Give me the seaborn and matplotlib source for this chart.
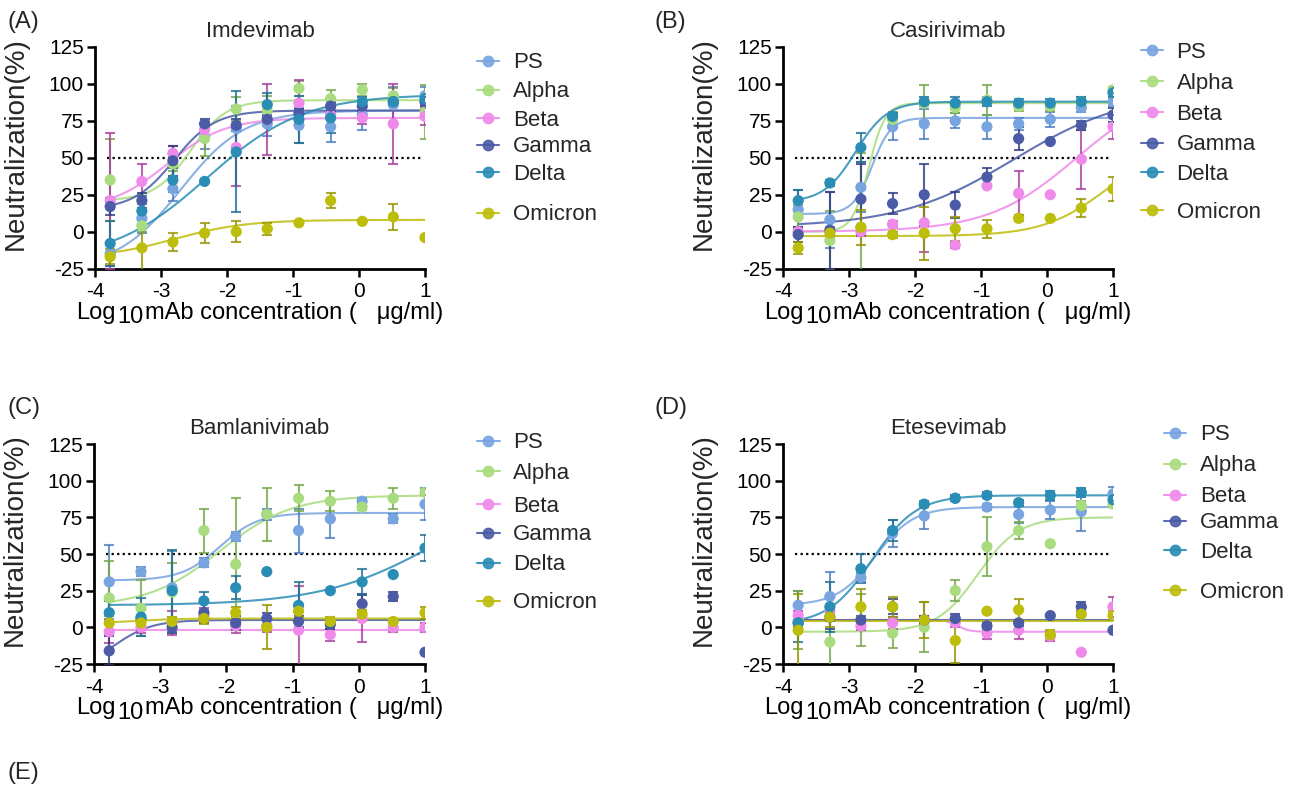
import numpy as np
import pandas as pd
import matplotlib
matplotlib.use("Agg")
import matplotlib.pyplot as plt
from matplotlib.lines import Line2D
from matplotlib.offsetbox import TextArea, HPacker, VPacker, DrawingArea, AnchoredOffsetbox
import seaborn as sns

# log10 mAb concentration (3-fold dilutions)
log_conc = [-3.77, -3.29, -2.82, -2.34, -1.86, -1.39, -0.91, -0.43, 0.05, 0.52, 1.00]
variants = ["PS", "Alpha", "Beta", "Gamma", "Delta", "Omicron"]

# 01. IMDEVIMAB
imd_ps = [-15, 9, 29, 64, 70, 73, 72, 71, 79, 86, 92]
imd_ps_err = [8, 10, 8, 8, 15, 8, 12, 10, 10, 12, 6]
imd_alpha = [35, 4, 46, 63, 83, 82, 97, 90, 96, 92, 81]
imd_alpha_err = [28, 4, 5, 12, 8, 10, 5, 6, 4, 5, 18]
imd_beta = [21, 34, 53, 69, 57, 76, 87, 79, 77, 73, 78]
imd_beta_err = [46, 12, 5, 5, 26, 24, 16, 8, 4, 27, 6]
imd_gamma = [17, 21, 48, 73, 72, 76, 80, 85, 85, 88, 88]
imd_gamma_err = [6, 5, 10, 3, 4, 3, 3, 3, 3, 2, 3]
imd_delta = [-8, 14, 35, 34, 54, 86, 76, 77, 88, 88, 90]
imd_delta_err = [15, 10, 8, 0, 41, 8, 16, 10, 3, 3, 3]
imd_omicron = [-17, -11, -7, -1, 0, 2, 6, 21, 7, 10, -4]
imd_omicron_err = [5, 16, 6, 7, 7, 4, 0, 5, 0, 9, 0]
# fit parameters (bottom, top, logEC50, hill) per variant
imd_fits = [(-25, 82, -2.7, 0.9), (21, 89, -2.55, 1.6), (15, 77, -2.9, 1.0),
            (15, 82, -2.8, 1.4), (-20, 93, -2.3, 0.6), (-18, 8, -2.8, 0.8)]

# 02. CASIRIVIMAB
cas_ps = [15, 8, 30, 71, 73, 75, 71, 73, 76, 84, 88]
cas_ps_err = [13, 19, 17, 9, 10, 5, 8, 4, 5, 3, 3]
cas_alpha = [10, -6, 3, 76, 87, 84, 89, 85, 85, 88, 96]
cas_alpha_err = [8, 20, 50, 5, 12, 4, 10, 3, 3, 3, 2]
cas_beta = [0, 0, 0, 5, 6, -9, 31, 26, 25, 49, 71]
cas_beta_err = [3, 3, 3, 2, 20, 2, 0, 15, 0, 20, 8]
cas_gamma = [-2, 1, 22, 19, 25, 18, 37, 63, 61, 72, 79]
cas_gamma_err = [5, 26, 24, 7, 21, 9, 6, 8, 0, 3, 5]
cas_delta = [21, 33, 57, 78, 88, 87, 88, 87, 87, 88, 94]
cas_delta_err = [7, 2, 10, 2, 3, 4, 3, 3, 3, 3, 3]
cas_omicron = [-11, -1, 3, -2, -1, 2, 2, 9, 9, 16, 29]
cas_omicron_err = [4, 3, 12, 2, 18, 8, 6, 2, 0, 6, 8]
cas_fits = [(12, 77, -2.65, 3.0), (0, 87, -2.7, 3.5), (0, 100, 0.45, 0.65),
            (3, 95, -0.5, 0.5), (20, 88, -2.9, 1.8), (-3, 60, 0.9, 0.9)]

# 03. BAMLANIVIMAB
bam_ps = [31, 38, 27, 44, 62, 77, 66, 74, 86, 74, 84]
bam_ps_err = [25, 3, 25, 3, 3, 4, 15, 13, 2, 3, 11]
bam_alpha = [20, 13, 24, 66, 43, 77, 88, 86, 82, 88, 92]
bam_alpha_err = [25, 19, 20, 15, 45, 18, 9, 7, 2, 7, 2]
bam_beta = [-3, 0, 3, 8, 1, 1, -2, -5, 6, 0, 0]
bam_beta_err = [8, 4, 8, 5, 5, 4, 30, 4, 16, 3, 3]
bam_gamma = [-16, 6, 0, 10, 3, 6, 4, 2, 16, 21, -17]
bam_gamma_err = [10, 8, 4, 7, 5, 4, 4, 3, 7, 3, 0]
bam_delta = [10, 7, 25, 18, 27, 38, 15, 25, 31, 36, 54]
bam_delta_err = [8, 13, 28, 6, 8, 0, 16, 0, 9, 0, 9]
bam_omicron = [3, 3, 4, 6, 10, 0, 11, 4, 9, 4, 10]
bam_omicron_err = [5, 3, 3, 4, 4, 15, 4, 3, 3, 0, 4]
bam_fits = [(32, 78, -2.1, 1.5), (14, 90, -2.1, 0.8), (-2, -2, 0.0, 1.0),
            (-30, 5, -3.7, 1.5), (15, 100, 1.2, 0.5), (3, 6, -3.3, 1.5)]

# 04. ETESEVIMAB
ete_ps = [15, 21, 34, 64, 76, 88, 82, 77, 80, 79, 91]
ete_ps_err = [10, 17, 3, 9, 9, 2, 2, 6, 6, 13, 5]
ete_alpha = [5, -10, 5, -4, 0, 25, 55, 66, 57, 83, 84]
ete_alpha_err = [20, 20, 18, 10, 17, 7, 20, 6, 0, 3, 0]
ete_beta = [8, 11, 1, 3, 5, 3, -4, -2, -6, -17, 14]
ete_beta_err = [3, 3, 3, 4, 3, 3, 4, 6, 3, 0, 7]
ete_gamma = [3, 7, 5, 14, 5, 6, 1, 3, 8, 14, -2]
ete_gamma_err = [3, 8, 3, 5, 3, 3, 2, 2, 0, 3, 0]
ete_delta = [3, 14, 40, 66, 84, 88, 90, 85, 90, 92, 87]
ete_delta_err = [13, 17, 10, 7, 2, 2, 2, 2, 3, 3, 3]
ete_omicron = [-2, 7, 14, 14, 5, -9, 11, 12, -5, 9, 8]
ete_omicron_err = [25, 7, 12, 7, 12, 15, 0, 7, 3, 2, 3]
ete_fits = [(15, 82, -2.6, 1.5), (-3, 75, -1.05, 1.4), (5, -3, -1.35, 5.0),
            (5, 5, 0.0, 1.0), (2, 90, -2.65, 1.3), (4.5, 4.5, 0.0, 1.0)]

panels = [
    ("(A)", "Imdevimab",
     [imd_ps, imd_alpha, imd_beta, imd_gamma, imd_delta, imd_omicron],
     [imd_ps_err, imd_alpha_err, imd_beta_err, imd_gamma_err, imd_delta_err, imd_omicron_err],
     imd_fits),
    ("(B)", "Casirivimab",
     [cas_ps, cas_alpha, cas_beta, cas_gamma, cas_delta, cas_omicron],
     [cas_ps_err, cas_alpha_err, cas_beta_err, cas_gamma_err, cas_delta_err, cas_omicron_err],
     cas_fits),
    ("(C)", "Bamlanivimab",
     [bam_ps, bam_alpha, bam_beta, bam_gamma, bam_delta, bam_omicron],
     [bam_ps_err, bam_alpha_err, bam_beta_err, bam_gamma_err, bam_delta_err, bam_omicron_err],
     bam_fits),
    ("(D)", "Etesevimab",
     [ete_ps, ete_alpha, ete_beta, ete_gamma, ete_delta, ete_omicron],
     [ete_ps_err, ete_alpha_err, ete_beta_err, ete_gamma_err, ete_delta_err, ete_omicron_err],
     ete_fits),
]

colors = ["#78a4e0", "#a9dc7e", "#ef8aea", "#4b5ba6", "#2a8db5", "#bdbd0c"]
err_colors = ["#4d7ec0", "#74a84a", "#a8409e", "#2e3a80", "#1f6e93", "#949400"]
palette = dict(zip(variants, colors))

sns.set_style("ticks")
plt.rcParams["font.family"] = ["Liberation Sans", "DejaVu Sans"]
plt.rcParams["axes.unicode_minus"] = False

fig = plt.figure(figsize=(12.97, 7.88), dpi=100)
# axes boxes in pixels: left, top, width, height
axes_px = [(95, 47, 330, 221.6), (783, 47, 330, 221.6),
           (94, 444, 331, 220), (783, 444, 330, 220)]
letter_pos = [(0.006, 0.965), (0.505, 0.965), (0.006, 0.475), (0.505, 0.475)]
# legend entry centres, pixels below axes top
legend_rows = [[16, 45, 73, 100, 127, 168], [5, 36, 67, 98, 127, 165],
               [-1, 29, 62, 91, 121, 159], [-9, 22, 53, 79, 108, 148]]
legend_x = [1.158, 1.085, 1.158, 1.155]

W, H = 1297, 788
x_fit = np.linspace(log_conc[0], log_conc[-1], 300)

for (letter, title, ys, errs, fits), (l, t, w, h), lpos, rows, lx in zip(
        panels, axes_px, letter_pos, legend_rows, legend_x):
    ax = fig.add_axes([l / W, 1 - (t + h) / H, w / W, h / H])

    pts = pd.DataFrame({
        "x": np.tile(log_conc, len(variants)),
        "y": np.concatenate(ys),
        "err": np.concatenate(errs),
        "variant": np.repeat(variants, len(log_conc)),
    })
    curves = []
    for v, (bot, top, ec50, hill) in zip(variants, fits):
        yfit = bot + (top - bot) / (1 + 10 ** ((ec50 - x_fit) * hill))
        curves.append(pd.DataFrame({"x": x_fit, "y": yfit, "variant": v}))
    curves = pd.concat(curves)

    sns.lineplot(data=curves, x="x", y="y", hue="variant", palette=palette,
                 hue_order=variants, lw=1.5, alpha=0.85, legend=False, ax=ax, zorder=2)

    for v, ec in zip(variants, err_colors):
        sub = pts[(pts["variant"] == v) & (pts["err"] > 0)]
        ax.errorbar(sub["x"], sub["y"], yerr=sub["err"], fmt="none", ecolor=ec,
                    elinewidth=1.5, capsize=3.5, capthick=1.5, alpha=0.8, zorder=3)

    sns.scatterplot(data=pts, x="x", y="y", hue="variant", palette=palette,
                    hue_order=variants, s=65, edgecolor="none", legend=False,
                    ax=ax, zorder=4)

    ax.hlines(50, -3.82, 0.95, colors="black", linestyles=(0, (1, 1.5)), lw=1.6, zorder=1)

    ax.set_xlim(-4, 1)
    ax.set_ylim(-25, 125)
    ax.set_xticks(range(-4, 2))
    ax.set_yticks(range(-25, 126, 25))
    ax.tick_params(labelsize=15, width=1.8, length=6, colors="black")
    ax.tick_params(axis="x", pad=4)
    ax.tick_params(axis="y", pad=2)
    for s in ["left", "bottom"]:
        ax.spines[s].set_linewidth(2)
        ax.spines[s].set_color("black")
    sns.despine(ax=ax)
    ax.set_title(title, fontsize=16, pad=7)
    ax.set_ylabel("Neutralization(%)", fontsize=20)
    ax.yaxis.set_label_coords(-0.2, 0.565)
    ax.set_xlabel("")

    # x label with lowered "10"
    txt = dict(fontsize=17, color="black")
    sub10 = VPacker(children=[DrawingArea(1, 3), TextArea("10", textprops=txt)],
                    pad=0, sep=0, align="left")
    xl = HPacker(children=[TextArea("Log", textprops=txt), sub10,
                           TextArea("mAb concentration (   μg/ml)", textprops=txt)],
                 pad=0, sep=1, align="top")
    box = AnchoredOffsetbox(loc="upper center", child=xl, pad=0, borderpad=0,
                            frameon=False, bbox_to_anchor=(0.5, -0.152),
                            bbox_transform=ax.transAxes)
    ax.add_artist(box)

    # legend, one entry per row
    for i, (v, c, r) in enumerate(zip(variants, colors, rows)):
        hnd = Line2D([0], [0], color=c, lw=1.5, marker="o", markersize=7.5, alpha=0.9)
        leg = ax.legend([hnd], [v], loc="center left", bbox_to_anchor=(lx, 1 - r / h),
                        frameon=False, fontsize=16, handlelength=1.0, handletextpad=0.6,
                        borderaxespad=0, borderpad=0)
        if i < len(variants) - 1:
            ax.add_artist(leg)

    fig.text(lpos[0], lpos[1], letter, fontsize=17, ha="left", va="baseline")

fig.text(0.006, 0.012, "(E)", fontsize=17, ha="left", va="baseline")

plt.savefig("out.png", dpi=100)
